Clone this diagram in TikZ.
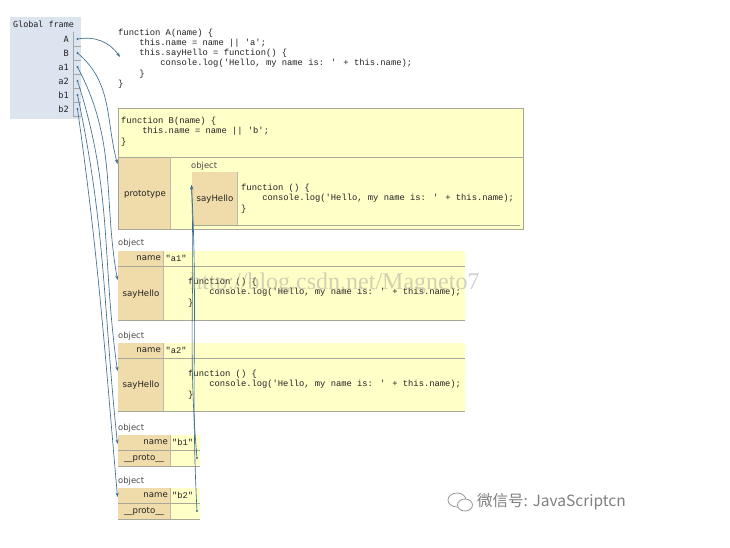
\documentclass[tikz,border=0pt]{standalone}
\usepackage{fontspec}
\setmainfont{DejaVu Sans}
\newfontfamily\codefont{Liberation Mono}
\newfontfamily\gfont{DejaVu Sans Mono}
\newfontfamily\wmfont{Liberation Serif}
\newfontfamily\cjkfont{Noto Sans CJK SC}
\usetikzlibrary{arrows.meta}
\definecolor{yel}{HTML}{FFFFC8}
\definecolor{tancell}{HTML}{F0DCAA}
\definecolor{gfbg}{HTML}{DCE4EF}
\definecolor{arr}{HTML}{3E6E8E}
\definecolor{bord}{HTML}{A8A898}
\definecolor{txt}{HTML}{222222}
\tikzset{
  code/.style={font=\codefont\fontsize{8.8}{10.3}\selectfont, anchor=north west, inner sep=0, align=left, text=txt},
  lbl/.style={font=\fontsize{8.6}{10}\selectfont, inner sep=0, text=txt},
  glbl/.style={font=\gfont\fontsize{8.6}{10}\selectfont, inner sep=0, anchor=east, text=txt},
  objlbl/.style={font=\fontsize{8.4}{10}\selectfont, inner sep=0, anchor=west, text=black!70},
  val/.style={font=\codefont\fontsize{8.7}{10}\selectfont, inner sep=0, anchor=west, text=txt},
  ptr/.style={-{Stealth[length=4.5pt,width=3.2pt]}, draw=arr, line width=0.65pt},
  ptdot/.style={circle, fill=arr, inner sep=0, minimum size=2.4pt},
  rule/.style={draw=bord, line width=0.7pt},
  cellline/.style={draw=bord!80, line width=0.5pt}
}
\begin{document}
\begin{tikzpicture}[x=1pt,y=-1pt]
\useasboundingbox[fill=white] (0,0) rectangle (730,548);

% ---------- Global frame ----------
\fill[gfbg] (10,17) rectangle (81,119);
\node[font=\gfont\fontsize{8.4}{10}\selectfont, anchor=west, inner sep=0, text=txt] (gftitle) at (13,24) {Global frame};
\foreach \n/\t/\y in {gA/A/39, gB/B/53, ga1/a1/67, ga2/a2/81, gb1/b1/95, gb2/b2/109}{
  \node[glbl] (\n) at (69,\y) {\t};
  \draw[draw=black!35, line width=0.5pt] (73,\y-7) -- (73,\y+7) -- (81,\y+7);
  \node[ptdot] (\n d) at (77.5,\y) {};
}

% ---------- function A ----------
\node[code] (funA) at (118,28.5) {function A(name) \{\\
\ \ \ \ this.name = name || 'a';\\
\ \ \ \ this.sayHello = function() \{\\
\ \ \ \ \ \ \ \ console.log('Hello, my name is: ' + this.name);\\
\ \ \ \ \}\\
\}};
\coordinate (funAin) at (120,57);

% ---------- function B ----------
\fill[yel] (118,108) rectangle (523,229);
\fill[tancell] (118,157) rectangle (170,229);
\fill[tancell] (192,172) rectangle (237,225);
\draw[rule] (118,108) rectangle (523,229);
\draw[rule] (118,157) -- (523,157);
\draw[cellline] (170,157) -- (170,229);
\draw[cellline] (237,172) -- (237,225);
\draw[rule] (192,225) -- (520,225);
\node[code] (funB) at (121,117) {function B(name) \{\\
\ \ \ \ this.name = name || 'b';\\
\}};
\node[lbl] (proto) at (145,194) {prototype};
\node[objlbl] (innerobj) at (191,166) {object};
\node[lbl] (innersay) at (215,199) {sayHello};
\node[code] (innercode) at (241,184) {function () \{\\
\ \ \ \ console.log('Hello, my name is: ' + this.name);\\
\}};
\coordinate (Bin) at (117.5,164);
\coordinate (protoin) at (191.5,185);

% ---------- object a1 ----------
\node[objlbl] (oa1) at (118,243) {object};
\fill[yel] (118,251) rectangle (465,320);
\fill[tancell] (118,251) rectangle (163,320);
\draw[rule] (118,266) -- (465,266);
\draw[rule] (118,320) -- (465,320);
\draw[cellline] (163,251) -- (163,320);
\node[lbl, anchor=east] (a1name) at (161,258.5) {name};
\node[val] (a1val) at (165.5,258.5) {"a1"};
\node[lbl] (a1say) at (141,294) {sayHello};
\node[code] (a1code) at (188,278) {function () \{\\
\ \ \ \ console.log('Hello, my name is: ' + this.name);\\
\}};
\coordinate (a1in) at (117.5,280);

% ---------- object a2 ----------
\node[objlbl] (oa2) at (118,336) {object};
\fill[yel] (118,343) rectangle (465,411);
\fill[tancell] (118,343) rectangle (163,411);
\draw[rule] (118,358) -- (465,358);
\draw[rule] (118,411) -- (465,411);
\draw[cellline] (163,343) -- (163,411);
\node[lbl, anchor=east] (a2name) at (161,350.5) {name};
\node[val] (a2val) at (165.5,350.5) {"a2"};
\node[lbl] (a2say) at (141,385) {sayHello};
\node[code] (a2code) at (188,370) {function () \{\\
\ \ \ \ console.log('Hello, my name is: ' + this.name);\\
\}};
\coordinate (a2in) at (117.5,371);

% ---------- object b1 ----------
\node[objlbl] (ob1) at (118,428) {object};
\fill[yel] (118,435) rectangle (200,466);
\fill[tancell] (118,435) rectangle (170,466);
\draw[rule] (118,450) -- (200,450);
\draw[rule] (118,466) -- (200,466);
\draw[cellline] (170,435) -- (170,466);
\node[lbl, anchor=east] (b1name) at (168,442) {name};
\node[val] (b1val) at (172,442) {"b1"};
\node[lbl] (b1proto) at (144,458) {\_\_proto\_\_};
\node[ptdot] (b1dot) at (197,458) {};
\coordinate (b1in) at (117.5,444);

% ---------- object b2 ----------
\node[objlbl] (ob2) at (118,481) {object};
\fill[yel] (118,488) rectangle (200,519);
\fill[tancell] (118,488) rectangle (170,519);
\draw[rule] (118,503) -- (200,503);
\draw[rule] (118,519) -- (200,519);
\draw[cellline] (170,488) -- (170,519);
\node[lbl, anchor=east] (b2name) at (168,495) {name};
\node[val] (b2val) at (172,495) {"b2"};
\node[lbl] (b2proto) at (144,511) {\_\_proto\_\_};
\node[ptdot] (b2dot) at (197,511) {};
\coordinate (b2in) at (117.5,497);

% ---------- pointers ----------
\draw[ptr] (gAd.center) to[out=10, in=125] (funAin);
\draw[ptr] (gBd.center) to[out=-40, in=105] (Bin);
\draw[ptr] (ga1d.center) to[out=-62, in=100] (a1in);
\draw[ptr] (ga2d.center) to[out=-72, in=98] (a2in);
\draw[ptr] (gb1d.center) to[out=-78, in=96] (b1in);
\draw[ptr] (gb2d.center) to[out=-82, in=95] (b2in);
\draw[ptr] (b1dot.center) to[out=95, in=-88] (protoin);
\draw[ptr] (b2dot.center) to[out=93, in=-87] (protoin);

% ---------- watermarks ----------
\node[font=\wmfont\fontsize{24}{26}\selectfont, text=black!40, opacity=0.45, anchor=base west, inner sep=0] (wm) at (190,289) {http://blog.csdn.net/Magneto7};

\draw[black!40, line width=0.8pt] (457,500) ellipse[x radius=9, y radius=7];
\fill[white] (465,505) ellipse[x radius=7.5, y radius=6];
\draw[black!40, line width=0.8pt] (465,505) ellipse[x radius=7.5, y radius=6];
\node[font=\cjkfont\fontsize{15.5}{17}\selectfont, text=black!50, anchor=west, inner sep=0] (wechat) at (477,502) {微信号: JavaScriptcn};
\end{tikzpicture}
\end{document}
